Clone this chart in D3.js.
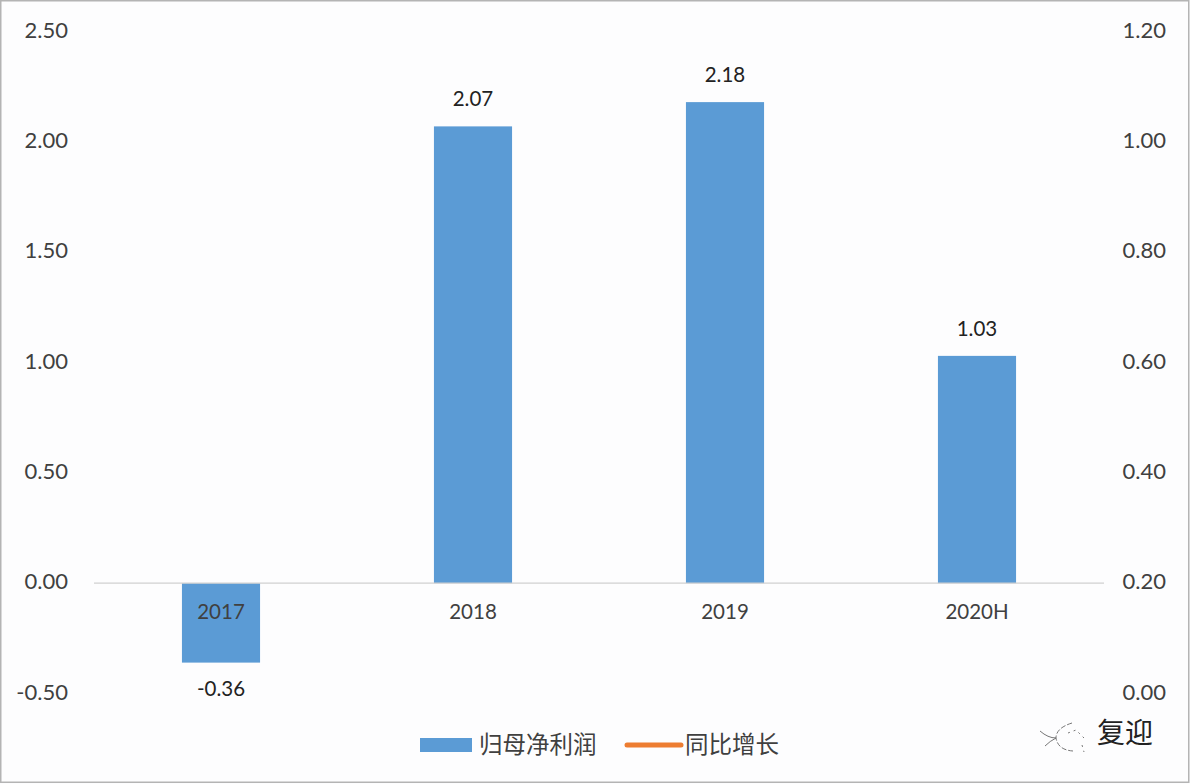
<!DOCTYPE html>
<html><head><meta charset="utf-8">
<script src="https://cdn.jsdelivr.net/npm/d3@7/dist/d3.min.js"></script>
<style>
html,body{margin:0;padding:0;background:#fdfdfe;overflow:hidden}
svg{display:block}
text{font-family:Lato,"Noto Sans CJK SC",sans-serif;fill:#404040}
</style></head><body><svg id="c" width="1190" height="784"></svg>
<script>
const categories=["2017","2018","2019","2020H"];
const netProfit=[-0.36,2.07,2.18,1.03];
const valueLabels=["-0.36","2.07","2.18","1.03"];
const leftTicks=[-0.5,0,0.5,1,1.5,2,2.5];
const rightTicks=[0,0.2,0.4,0.6,0.8,1,1.2];
const legendNames=["归母净利润","同比增长"];
const colors=["#5b9bd5","#ed7d31"];

const svg=d3.select("#c");
const yL=d3.scaleLinear().domain([-0.5,2.5]).range([693.5,31.5]);
const yR=d3.scaleLinear().domain([0,1.2]).range([693.5,31.5]);
const x=d3.scaleBand().domain(categories).range([95,1103]).paddingInner(0.69).paddingOuter(0.345);
const fs=22;
const plain=d3.format(".2f");
const fmt=d=>plain(d).replace("\u2212","-");

// frame
svg.append("rect").attr("x",0.75).attr("y",0.75).attr("width",1188).attr("height",781.5)
  .attr("fill","#fdfdfe").attr("stroke","#b4b4b4").attr("stroke-width",1.5);

// bars
svg.append("g").selectAll("rect").data(netProfit).join("rect")
  .attr("x",(d,i)=>x(categories[i]))
  .attr("width",x.bandwidth())
  .attr("y",d=>yL(Math.max(d,0)))
  .attr("height",d=>Math.abs(yL(d)-yL(0)))
  .attr("fill",colors[0]);

// zero line
svg.append("line").attr("x1",94).attr("x2",1104).attr("y1",yL(0)).attr("y2",yL(0))
  .attr("stroke","#d0d0d0").attr("stroke-width",1.2);

// left axis
const axL=svg.append("g").attr("transform","translate(68,-1.5)")
  .call(d3.axisLeft(yL).tickValues(leftTicks).tickFormat(fmt).tickSize(0).tickPadding(0));
axL.select(".domain").remove();
axL.selectAll("text").attr("font-size",fs).attr("dy","0.33em").style("font-family","Lato").attr("fill","#404040");

// right axis
const axR=svg.append("g").attr("transform","translate(1166,-1.5)")
  .call(d3.axisRight(yR).tickValues(rightTicks).tickFormat(d3.format(".2f")).tickSize(0).tickPadding(0));
axR.select(".domain").remove();
axR.selectAll("text").attr("font-size",fs).attr("dy","0.33em").attr("text-anchor","end").style("font-family","Lato").attr("fill","#404040");

// category labels
svg.append("g").selectAll("text").data(categories).join("text")
  .attr("x",d=>x(d)+x.bandwidth()/2).attr("y",yL(0)+36)
  .attr("text-anchor","middle").attr("font-size",20.5).text(d=>d);

// value labels
svg.append("g").selectAll("text").data(netProfit).join("text")
  .attr("x",(d,i)=>x(categories[i])+x.bandwidth()/2)
  .attr("y",d=>d<0?yL(d)+33:yL(d)-20)
  .attr("text-anchor","middle").attr("font-size",20.5).style("fill","#222")
  .text((d,i)=>valueLabels[i]);

// legend
const lg=svg.append("g");
lg.append("rect").attr("x",420).attr("y",738).attr("width",52).attr("height",14).attr("fill",colors[0]);
lg.append("text").attr("x",479).attr("y",753).attr("font-size",23.5).text(legendNames[0]);
lg.append("line").attr("x1",627).attr("x2",681).attr("y1",745).attr("y2",745)
  .attr("stroke",colors[1]).attr("stroke-width",5).attr("stroke-linecap","round");
lg.append("text").attr("x",685).attr("y",753).attr("font-size",23.5).text(legendNames[1]);

// watermark
const wm=svg.append("g").attr("fill","none").attr("stroke","#666").attr("stroke-width",0.9);
wm.append("path").attr("d","M1040 731 Q1048 738 1056 738 M1056 738 Q1050 741 1045 746");
wm.append("path").attr("stroke-dasharray","5 2").attr("d","M1072 723 Q1056 728 1056 738 Q1058 750 1073 751");
wm.append("path").attr("stroke-dasharray","2 4").attr("d","M1068 733 L1076 730 L1084 738 M1082 745 L1084 752");
svg.append("text").attr("x",1097).attr("y",743).attr("font-size",28).style("fill","#222").text("复迎");
</script></body></html>
